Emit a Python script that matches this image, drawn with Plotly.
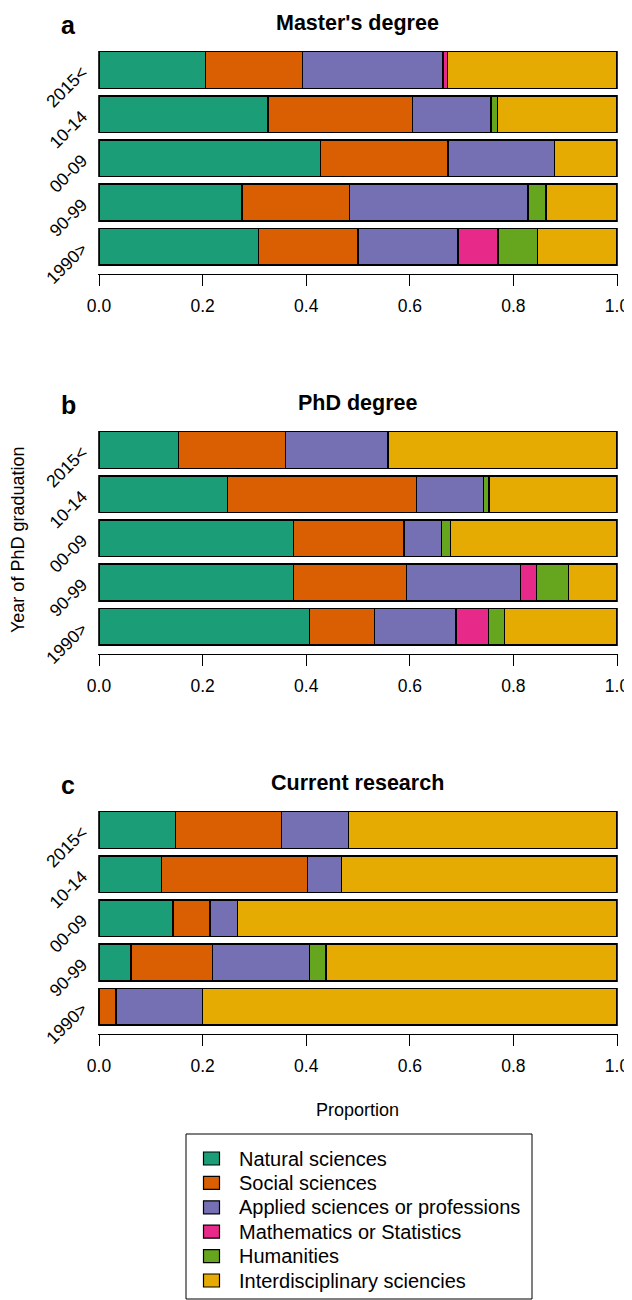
import plotly.graph_objects as go

# ---------------- data ----------------
periods = ["2015<", "10-14", "00-09", "90-99", "1990>"]   # top to bottom
fields = ["Natural sciences", "Social sciences", "Applied sciences or professions",
          "Mathematics or Statistics", "Humanities", "Interdisciplinary sciencies"]
colors = ["#1B9E77", "#D95F02", "#7570B3", "#E7298A", "#66A61E", "#E6AB02"]

panel_letters = ["a", "b", "c"]
panel_titles = ["Master's degree", "PhD degree", "Current research"]

# values per field, rows in order of `periods`
masters = {
    "Natural sciences":               [0.206, 0.326, 0.428, 0.276, 0.308],
    "Social sciences":                [0.187, 0.279, 0.246, 0.207, 0.192],
    "Applied sciences or professions":[0.271, 0.152, 0.205, 0.345, 0.193],
    "Mathematics or Statistics":      [0.009, 0.000, 0.000, 0.000, 0.077],
    "Humanities":                     [0.000, 0.012, 0.000, 0.035, 0.076],
    "Interdisciplinary sciencies":    [0.327, 0.231, 0.121, 0.137, 0.154],
}
phd = {
    "Natural sciences":               [0.153, 0.248, 0.375, 0.375, 0.407],
    "Social sciences":                [0.207, 0.365, 0.214, 0.219, 0.125],
    "Applied sciences or professions":[0.198, 0.129, 0.072, 0.220, 0.157],
    "Mathematics or Statistics":      [0.000, 0.000, 0.000, 0.031, 0.063],
    "Humanities":                     [0.000, 0.011, 0.017, 0.062, 0.031],
    "Interdisciplinary sciencies":    [0.442, 0.247, 0.322, 0.093, 0.217],
}
current = {
    "Natural sciences":               [0.148, 0.120, 0.143, 0.062, 0.000],
    "Social sciences":                [0.204, 0.283, 0.071, 0.157, 0.033],
    "Applied sciences or professions":[0.129, 0.065, 0.054, 0.188, 0.167],
    "Mathematics or Statistics":      [0.000, 0.000, 0.000, 0.000, 0.000],
    "Humanities":                     [0.000, 0.000, 0.000, 0.031, 0.000],
    "Interdisciplinary sciencies":    [0.519, 0.532, 0.732, 0.562, 0.800],
}
panels = [masters, phd, current]

x_ticks = [0.0, 0.2, 0.4, 0.6, 0.8, 1.0]

# ---------------- layout helpers ----------------
W, H = 632, 1300
OFF = 8  # page body margin: figure is drawn 8px right/down of page origin
def px(xp):
    return (xp - OFF) / W
def py(yp):
    return 1 - (yp - OFF) / H

fig = go.Figure()
FONT = "Liberation Sans, Arial, sans-serif"
layout = dict(
    width=W, height=H,
    margin=dict(l=0, r=0, t=0, b=0, pad=0, autoexpand=False),
    paper_bgcolor="white", plot_bgcolor="white",
    barmode="stack", bargap=1 - 1 / 1.2,
    font=dict(family=FONT, color="black"),
    showlegend=False,
)
annotations = []
shapes = []
cat_bottom_up = periods[::-1]

for k, data in enumerate(panels):
    off = 380 * k
    xa = "x" if k == 0 else f"x{k+1}"
    ya = "y" if k == 0 else f"y{k+1}"
    for f, c in zip(fields, colors):
        fig.add_trace(go.Bar(
            x=data[f], y=periods, orientation="h", name=f,
            marker=dict(color=c, line=dict(color="black", width=1.3)),
            xaxis=xa, yaxis=ya, showlegend=False,
        ))
    pad = 0.8 / 518
    layout["xaxis" if k == 0 else f"xaxis{k+1}"] = dict(
        domain=[px(99 - 0.8), px(617 + 0.8)], range=[-pad, 1 + pad],
        anchor=ya, showline=True, linecolor="black", linewidth=1,
        ticks="outside", ticklen=11, tickwidth=1, tickcolor="black",
        tickvals=x_ticks, ticktext=[f"{v:.1f}" for v in x_ticks],
        tickfont=dict(size=17.5, family=FONT, color="black"),
        ticklabelstandoff=5, automargin=False,
        showgrid=False, zeroline=False, fixedrange=True,
    )
    top_px = 274 + off - 5.121 * 44.1
    layout["yaxis" if k == 0 else f"yaxis{k+1}"] = dict(
        domain=[py(274 + off), py(top_px)],
        type="category", categoryorder="array", categoryarray=cat_bottom_up,
        range=[-0.621, 4.5], anchor=xa,
        showline=False, ticks="", tickangle=-45,
        tickfont=dict(size=17.5, family=FONT, color="black"),
        ticklabelstandoff=15, automargin=False,
        showgrid=False, zeroline=False, fixedrange=True,
    )
    annotations.append(dict(
        text=f"<b>{panel_titles[k]}</b>", x=px(358), y=py(23 + off),
        xref="paper", yref="paper", showarrow=False, xanchor="center", yanchor="middle",
        font=dict(size=21.5, family=FONT, color="black")))
    annotations.append(dict(
        text=f"<b>{panel_letters[k]}</b>", x=px(68), y=py(25 + off),
        xref="paper", yref="paper", showarrow=False, xanchor="center", yanchor="middle",
        font=dict(size=25, family=FONT, color="black")))

annotations.append(dict(
    text="Year of PhD graduation", x=px(18), y=py(540), textangle=-90,
    xref="paper", yref="paper", showarrow=False, xanchor="center", yanchor="middle",
    font=dict(size=18, family=FONT, color="black")))
annotations.append(dict(
    text="Proportion", x=px(358), y=py(1110),
    xref="paper", yref="paper", showarrow=False, xanchor="center", yanchor="middle",
    font=dict(size=18, family=FONT, color="black")))

# ---------------- legend (drawn box) ----------------
shapes.append(dict(type="rect", xref="paper", yref="paper",
                   x0=px(186), x1=px(532), y0=py(1299), y1=py(1134),
                   line=dict(color="black", width=1), fillcolor="white", layer="below"))
for i, (f, c) in enumerate(zip(fields, colors)):
    yc = 1158.5 + 24.4 * i
    shapes.append(dict(type="rect", xref="paper", yref="paper",
                       x0=px(203.5), x1=px(219.5), y0=py(yc + 6.5), y1=py(yc - 6.5),
                       line=dict(color="black", width=1.2), fillcolor=c))
    annotations.append(dict(
        text=f, x=px(237), y=py(yc), xref="paper", yref="paper", showarrow=False,
        xanchor="left", yanchor="middle",
        font=dict(size=20, family=FONT, color="black")))

layout["annotations"] = annotations
layout["shapes"] = shapes
fig.update_layout(**layout)
fig.write_html("out.html")
